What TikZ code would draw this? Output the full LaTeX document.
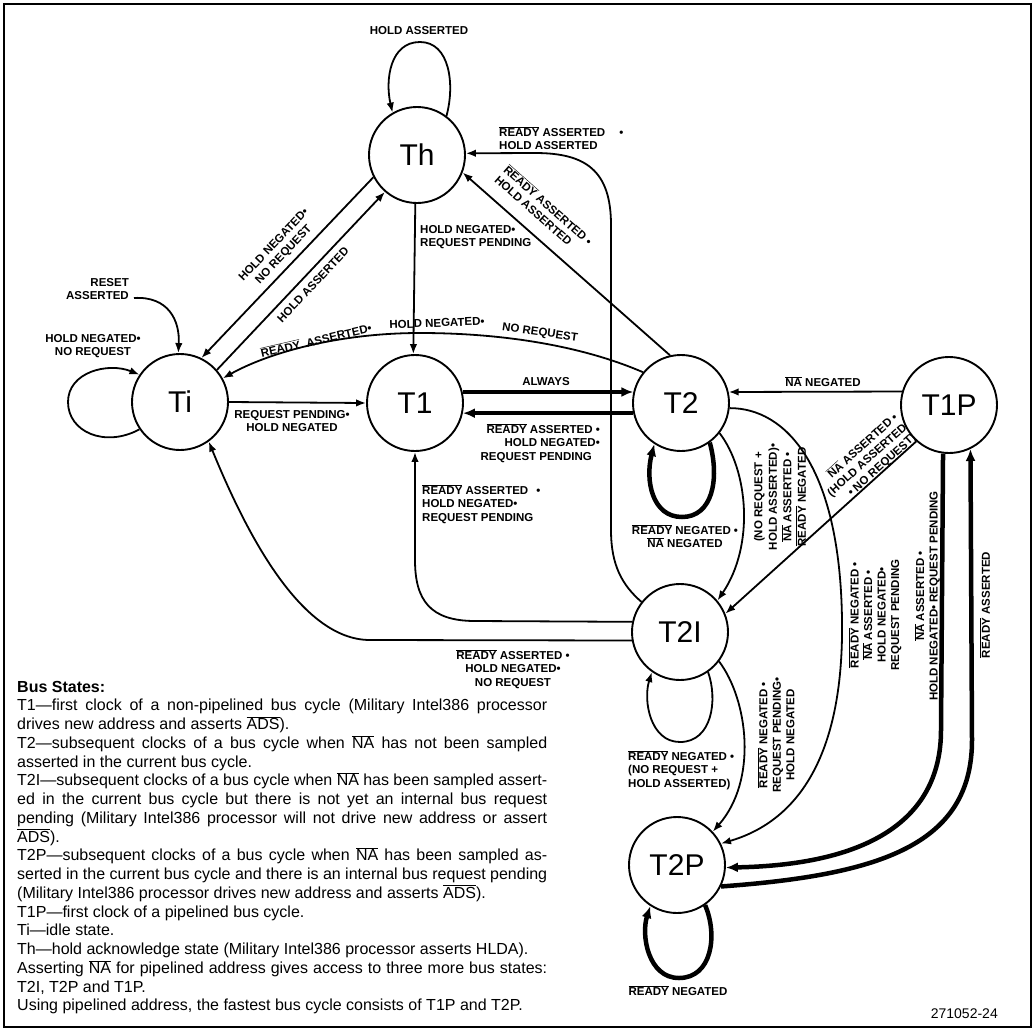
\documentclass[tikz,border=0pt]{standalone}
\usepackage{fontspec}
\setmainfont{Liberation Sans}
\usetikzlibrary{arrows.meta}
\newcommand{\lblfont}{\fontsize{11.5}{13.5}\selectfont\bfseries}
\newcommand{\statefont}{\fontsize{30}{30}\selectfont}
\newcommand{\ovl}[1]{\ensuremath{\overline{\mbox{#1}}}}
\begin{document}
\begin{tikzpicture}[x=1pt,y=-1pt,
  state/.style={circle,draw,line width=1.9pt,minimum size=96pt,inner sep=0pt,font=\statefont},
  edge/.style={line width=1.8pt,-{Latex[length=10pt,width=7.5pt]}},
  bigedge/.style={line width=4.5pt,-{Latex[length=12pt,width=10pt]}},
  lbl/.style={font=\lblfont,inner sep=0pt,align=center}]
\useasboundingbox (0,0) rectangle (1036,1031);
\draw[line width=2pt] (4,4) rectangle (1031,1027);
% states
\node[state] (Th) at (417,155) {Th};
\node[state] (Ti) at (180,402) {Ti};
\node[state] (T1) at (415,403) {T1};
\node[state] (T2) at (681,403) {T2};
\node[state] (T1P) at (949,405) {T1P};
\node[state] (T2I) at (680,632) {T2I};
\node[state] (T2P) at (677,865) {T2P};
% edges
\draw[edge] (Th.53) .. controls (455,85) and (450,42) .. (420,42) .. controls (390,42) and (385,80) .. (Th.120);
\draw[edge] (Th.207) -- (Ti.64);
\draw[edge] (Ti.41) -- (Th.229);
\draw[edge] (Th.268) -- (T1.92);
\draw[edge] (T2.103) -- (Th.-21);
\draw[edge] (T2I.142) .. controls (622,585) and (611,565) .. (611,530) -- (611,225) .. controls (611,170) and (585,153) .. (535,153) -- (Th.2);
\draw[edge] (T2.141) .. controls (580,345) and (500,333) .. (420,333) .. controls (340,333) and (270,352) .. (Ti.29);
\draw[edge] (Ti.214) .. controls (105,448) and (68,432) .. (68,402) .. controls (68,372) and (108,362) .. (Ti.146);
\coordinate (rst0) at (134,298);
\draw[edge] (rst0) .. controls (168,296) and (180,320) .. (Ti.92);
\draw[edge] (Ti.0) -- (T1.180);
\draw[bigedge] (T1.13) -- (T2.167);
\draw[bigedge] (T2.192) -- (T1.-12);
\draw[bigedge] (T2.-54) .. controls (720,480) and (712,517) .. (682,517) .. controls (652,517) and (645,480) .. (T2.237);
\draw[edge] (T2.-38) .. controls (748,470) and (755,545) .. (T2I.40);
\draw[edge] (T2.-6) .. controls (785,408) and (840,465) .. (842,620) .. controls (844,760) and (795,822) .. (T2P.26);
\draw[edge] (T1P.164) -- (T2.13);
\draw[edge] (T1P.228) -- (T2I.22);
\draw[bigedge] (T1P.263) -- (941,730) .. controls (941,825) and (860,865) .. (T2P.-3);
\draw[bigedge] (T2P.-26) .. controls (880,875) and (972,845) .. (972,740) -- (T1P.-64);
\draw[edge] (T2I.-55) .. controls (718,700) and (712,742) .. (680,742) .. controls (650,742) and (643,700) .. (T2I.235);
\draw[edge] (T2I.-37) .. controls (748,700) and (758,780) .. (T2P.43);
\draw[bigedge] (T2P.-55) .. controls (718,935) and (712,978) .. (679,978) .. controls (648,978) and (641,935) .. (T2P.237);
\draw[edge] (T2I.168) -- (475,621) .. controls (430,621) and (415,600) .. (415,560) -- (T1.270);
\draw[edge] (T2I.190) -- (370,640) .. controls (300,640) and (245,530) .. (Ti.306);
% labels
\node[lbl] (lThLoop) at (419,31) {HOLD ASSERTED};
\node[lbl,rotate=46.5] (lThTi) at (279,250) {HOLD NEGATED•\\NO REQUEST};
\node[lbl,rotate=46.7] (lTiTh) at (313,285) {HOLD ASSERTED};
\node[lbl,align=left,anchor=west] (lThT1) at (420,237) {HOLD NEGATED•\\REQUEST PENDING};
\node[lbl,align=left,rotate=-41.5] (lT2Th) at (544,210) {\ovl{READY} ASSERTED •\\HOLD ASSERTED};
\node[lbl,align=left,anchor=west] (lT2ITh) at (499,138) {\ovl{READY} ASSERTED\hspace{14pt}•\\HOLD ASSERTED};
\node[lbl,rotate=13] (lT2Tia) at (316,340) {\ovl{READY}\ \ ASSERTED•};
\node[lbl,rotate=2] (lT2Tib) at (437,323) {HOLD NEGATED•};
\node[lbl,rotate=-8] (lT2Tic) at (540,333) {NO REQUEST};
\node[lbl] (lTiLoop) at (93,346) {HOLD NEGATED•\\NO REQUEST};
\node[lbl,align=right,anchor=east] (lReset) at (129,289) {RESET\\ASSERTED};
\node[lbl] (lTiT1) at (292,421) {REQUEST PENDING•\\HOLD NEGATED};
\node[lbl] (lAlways) at (546,382) {ALWAYS};
\node[lbl,align=right,anchor=east] (lT2T1) at (600,443) {\ovl{READY} ASSERTED •\\HOLD NEGATED•\\REQUEST PENDING\hspace*{8pt}};
\node[lbl,align=left,anchor=west] (lT2IT1) at (422,504) {\ovl{READY} ASSERTED\hspace{8pt}•\\HOLD NEGATED•\\REQUEST PENDING};
\node[lbl] (lT2Loop) at (685,536) {\ovl{READY} NEGATED •\\\ovl{NA} NEGATED};
\node[lbl,rotate=90,font=\fontsize{11.5}{14.5}\selectfont\bfseries] (lT2T2I) at (780,497) {(NO REQUEST +\\HOLD ASSERTED)•\\\ovl{NA} ASSERTED •\\\ovl{READY} NEGATED};
\node[lbl,rotate=90] (lT2T2P) at (875,615) {\ovl{READY} NEGATED •\\\ovl{NA} ASSERTED •\\HOLD NEGATED•\\REQUEST PENDING};
\node[lbl] (lT1PT2) at (823,382) {\ovl{NA} NEGATED};
\node[lbl,align=right,rotate=42] (lT1PT2I) at (867,460) {\ovl{NA} ASSERTED •\\(HOLD ASSERTED\\• NO REQUEST)};
\node[lbl,rotate=90] (lT1PT2P) at (927,596) {\ovl{NA} ASSERTED •\\HOLD NEGATED• REQUEST PENDING};
\node[lbl,rotate=90] (lT2PT1P) at (985,605) {\ovl{READY} ASSERTED};
\node[lbl,align=left,anchor=west] (lT2ILoop) at (628,770) {\ovl{READY} NEGATED •\\(NO REQUEST +\\HOLD ASSERTED)};
\node[lbl,rotate=90] (lT2IT2P) at (776,735) {\ovl{READY} NEGATED •\\REQUEST PENDING•\\HOLD NEGATED};
\node[lbl] (lT2PLoop) at (678,991) {\ovl{READY} NEGATED};
\node[lbl] (lT2ITi) at (513,669) {\ovl{READY} ASSERTED •\\HOLD NEGATED•\\NO REQUEST};
\node[anchor=base east,inner sep=0pt,font=\fontsize{14}{14}\selectfont] (fignum) at (998,1018) {271052-24};
% description
\node[anchor=base west,inner sep=0pt] (desc) at (17,692) {\parbox[t]{530pt}{\fontsize{16}{18.75}\selectfont
\textbf{Bus States:}\\
\makebox[530pt][s]{T1—first clock of a non-pipelined bus cycle (Military Intel386 processor}\\
drives new address and asserts \ovl{ADS}).\\
\makebox[530pt][s]{T2—subsequent clocks of a bus cycle when \ovl{NA} has not been sampled}\\
asserted in the current bus cycle.\\
\makebox[530pt][s]{T2I—subsequent clocks of a bus cycle when \ovl{NA} has been sampled assert-}\\
\makebox[530pt][s]{ed in the current bus cycle but there is not yet an internal bus request}\\
\makebox[530pt][s]{pending (Military Intel386 processor will not drive new address or assert}\\
\ovl{ADS}).\\
\makebox[530pt][s]{T2P—subsequent clocks of a bus cycle when \ovl{NA} has been sampled as-}\\
\makebox[530pt][s]{serted in the current bus cycle and there is an internal bus request pending}\\
(Military Intel386 processor drives new address and asserts \ovl{ADS}).\\
T1P—first clock of a pipelined bus cycle.\\
Ti—idle state.\\
Th—hold acknowledge state (Military Intel386 processor asserts HLDA).\\
\makebox[530pt][s]{Asserting \ovl{NA} for pipelined address gives access to three more bus states:}\\
T2I, T2P and T1P.\\
Using pipelined address, the fastest bus cycle consists of T1P and T2P.}};
\end{tikzpicture}
\end{document}
